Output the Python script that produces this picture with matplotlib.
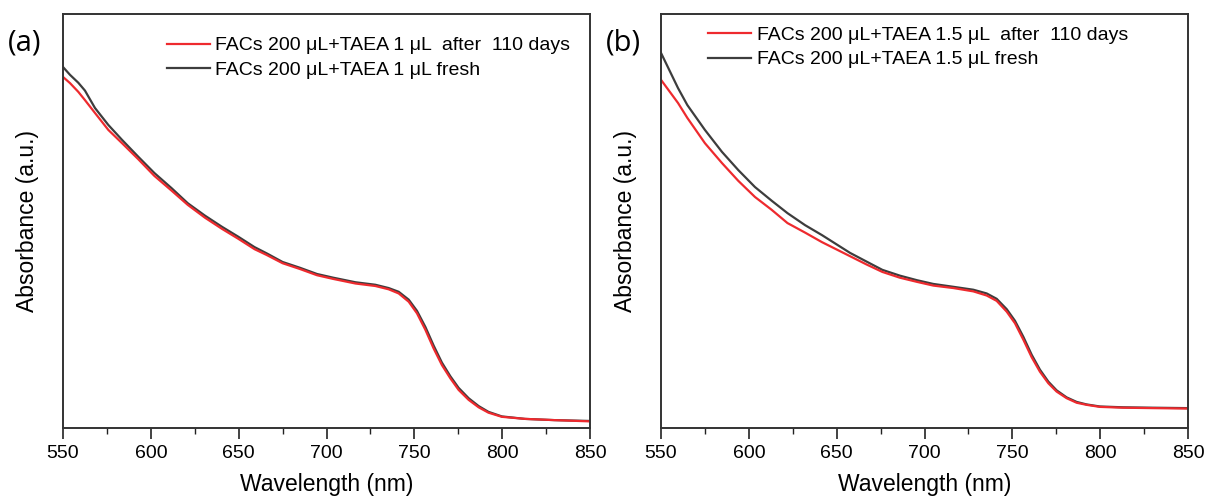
import numpy as np
import matplotlib
matplotlib.use('Agg')
import matplotlib.pyplot as plt
from matplotlib.ticker import MultipleLocator, NullLocator

plt.rcParams['font.family'] = ['Liberation Sans', 'DejaVu Sans']

# panel (a): FACs 200 uL + TAEA 1 uL
wl_a = [550, 554, 558.7, 562.5, 568.2, 575.8, 583.6, 592.9, 602, 611.9, 621, 630.8,
        640.5, 649.8, 659, 665.9, 675, 684.9, 694.6, 703.9, 716.5, 727.8, 735.4,
        741.1, 746.8, 751.5, 756.3, 761, 765.7, 770.5, 775.2, 780.9, 786.6, 792.2,
        799.8, 813, 830, 850]
fresh_a = [0.872, 0.853, 0.834, 0.815, 0.773, 0.732, 0.696, 0.655, 0.616, 0.579,
           0.543, 0.513, 0.486, 0.462, 0.437, 0.422, 0.401, 0.387, 0.372, 0.363,
           0.352, 0.346, 0.338, 0.329, 0.310, 0.283, 0.244, 0.199, 0.158, 0.125,
           0.097, 0.072, 0.053, 0.039, 0.028, 0.022, 0.019, 0.017]
aged_a = [0.848, 0.833, 0.812, 0.792, 0.761, 0.720, 0.688, 0.649, 0.609, 0.573,
          0.539, 0.508, 0.481, 0.457, 0.432, 0.418, 0.398, 0.384, 0.369, 0.360,
          0.349, 0.343, 0.335, 0.325, 0.305, 0.277, 0.237, 0.192, 0.152, 0.120,
          0.092, 0.068, 0.050, 0.037, 0.027, 0.022, 0.019, 0.016]

# panel (b): FACs 200 uL + TAEA 1.5 uL
wl_b = [550, 559.7, 565, 575, 584.7, 594, 603.5, 613, 622, 632, 641.6, 657.6, 667,
        676, 686, 695.7, 705, 716.5, 727.8, 735.4, 741.1, 746.8, 751.5, 756.3, 761,
        765.7, 770.5, 775.2, 780.9, 786.6, 792.2, 799.8, 813, 830, 850]
fresh_b = [0.906, 0.821, 0.780, 0.720, 0.667, 0.623, 0.582, 0.549, 0.519, 0.490,
           0.466, 0.423, 0.402, 0.382, 0.368, 0.357, 0.348, 0.341, 0.334, 0.325,
           0.312, 0.287, 0.259, 0.220, 0.177, 0.141, 0.112, 0.091, 0.074, 0.063,
           0.057, 0.052, 0.050, 0.049, 0.048]
aged_b = [0.841, 0.785, 0.749, 0.688, 0.640, 0.597, 0.558, 0.527, 0.495, 0.472,
          0.449, 0.415, 0.395, 0.377, 0.363, 0.353, 0.344, 0.338, 0.330, 0.320,
          0.307, 0.281, 0.253, 0.213, 0.171, 0.136, 0.108, 0.088, 0.072, 0.061,
          0.056, 0.051, 0.049, 0.048, 0.047]

labels_a = ['FACs 200 \u03bcL+TAEA 1 \u03bcL  after  110 days', 'FACs 200 \u03bcL+TAEA 1 \u03bcL fresh']
labels_b = ['FACs 200 \u03bcL+TAEA 1.5 \u03bcL  after  110 days', 'FACs 200 \u03bcL+TAEA 1.5 \u03bcL fresh']

RED = '#ee2a2e'
GREY = '#3d3d3d'

fig = plt.figure(figsize=(12.09, 5.0), dpi=100)
ax_a = fig.add_axes([63 / 1209, 72 / 500, 527 / 1209, 414 / 500])
ax_b = fig.add_axes([661 / 1209, 72 / 500, 527 / 1209, 414 / 500])

panels = [
    (ax_a, wl_a, fresh_a, aged_a, labels_a, '(a)', (0.197, 0.945)),
    (ax_b, wl_b, fresh_b, aged_b, labels_b, '(b)', (0.089, 0.97)),
]

for ax, wl, fresh, aged, labels, tag, leg_pos in panels:
    l_fresh, = ax.plot(wl, fresh, color=GREY, lw=1.6)
    l_aged, = ax.plot(wl, aged, color=RED, lw=1.6)
    ax.set_xlim(550, 850)
    ax.set_ylim(0, 1)
    ax.xaxis.set_major_locator(MultipleLocator(50))
    ax.xaxis.set_minor_locator(MultipleLocator(25))
    ax.yaxis.set_major_locator(NullLocator())
    ax.tick_params(axis='x', which='major', direction='out', length=8, width=1.2,
                   labelsize=14, pad=4, color='#222222')
    ax.tick_params(axis='x', which='minor', direction='out', length=4, width=1.0,
                   color='#222222')
    for sp in ax.spines.values():
        sp.set_linewidth(1.4)
        sp.set_color('#333333')
    ax.set_xlabel('Wavelength (nm)', fontsize=16.5, labelpad=8)
    ax.set_ylabel('Absorbance (a.u.)', fontsize=16.5)
    ax.yaxis.set_label_coords(-0.045, 0.5)
    ax.legend([l_aged, l_fresh], labels, loc='upper left', bbox_to_anchor=leg_pos,
              frameon=False, fontsize=14, handlelength=2.2, handletextpad=0.3,
              labelspacing=0.35, borderpad=0, borderaxespad=0)
    ax.text(-0.072, 0.93, tag, transform=ax.transAxes, fontsize=21,
            family=['Open Sans', 'DejaVu Sans'], ha='center', va='center')

fig.savefig('out.png', dpi=100)
